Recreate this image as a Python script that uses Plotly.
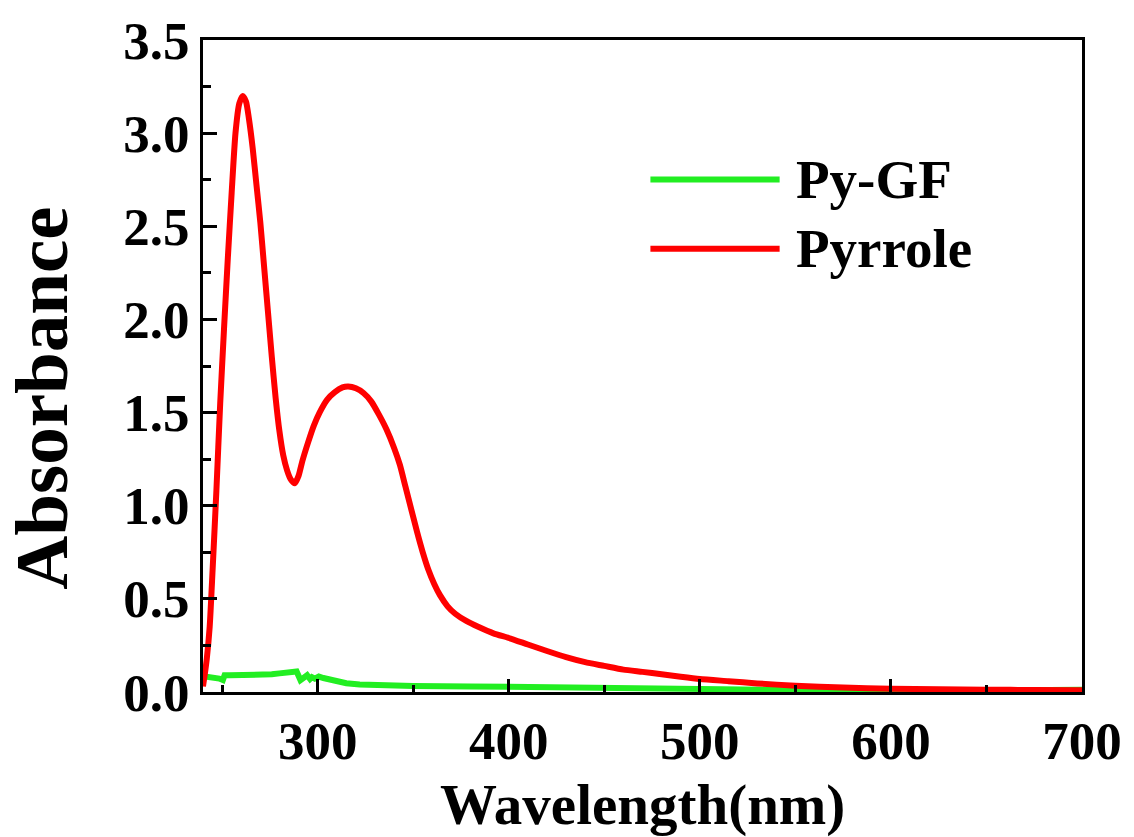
import plotly.graph_objects as go

# UV-Vis absorbance spectra
wl_pyrrole = [240, 241, 242, 243.5, 245, 247, 249, 251, 253, 255, 257, 259, 260.8, 262.5,
              264, 266, 268, 270, 272, 274, 276, 278, 280, 282, 284, 286, 288, 290,
              292, 295, 298, 301, 305, 309, 313, 316, 320, 324, 328, 332, 336, 340,
              343, 346, 349, 352, 355, 358, 361, 364, 368, 372, 378, 384, 392, 400,
              410, 420, 430, 440, 450, 460, 470, 480, 490, 500, 515, 530, 550, 575,
              600, 625, 650, 675, 700]
abs_pyrrole = [0.03, 0.10, 0.18, 0.35, 0.65, 1.08, 1.55, 1.95, 2.33, 2.68, 3.00, 3.16, 3.20, 3.17,
               3.08, 2.92, 2.72, 2.52, 2.28, 2.04, 1.80, 1.58, 1.40, 1.27, 1.19, 1.14, 1.12, 1.16,
               1.24, 1.34, 1.43, 1.50, 1.57, 1.61, 1.635, 1.64, 1.63, 1.605, 1.56, 1.49, 1.41, 1.31,
               1.22, 1.10, 0.98, 0.86, 0.75, 0.655, 0.58, 0.52, 0.46, 0.42, 0.38, 0.35, 0.315, 0.29,
               0.255, 0.22, 0.187, 0.16, 0.14, 0.12, 0.108, 0.095, 0.082, 0.07, 0.058, 0.046, 0.034, 0.024,
               0.018, 0.015, 0.012, 0.011, 0.01]

wl_pygf = [240, 242.6, 246, 248.5, 250.4, 251.3, 254, 258, 262, 266, 272, 276, 280, 284,
           287.6, 289, 291, 292.5, 294.5, 296, 297, 298.5, 300.6, 303, 306.7, 310, 315, 322,
           331, 350, 380, 400, 450, 500, 550, 575, 600, 650, 700]
abs_pygf = [0.085, 0.082, 0.078, 0.072, 0.064, 0.09, 0.09, 0.09, 0.089, 0.09, 0.087, 0.095, 0.10, 0.105,
            0.113, 0.11, 0.064, 0.075, 0.09, 0.07, 0.08, 0.072, 0.083, 0.075, 0.064, 0.055, 0.047, 0.04,
            0.035, 0.032, 0.03, 0.028, 0.022, 0.02, 0.012, 0.006, 0.005, 0.008, 0.012]

x_ticks = [300, 400, 500, 600, 700]
y_ticks = [0.0, 0.5, 1.0, 1.5, 2.0, 2.5, 3.0, 3.5]
series_names = ["Py-GF", "Pyrrole"]
series_colors = ["#22EE22", "#FF0000"]

FONT = "Liberation Serif"

fig = go.Figure()
fig.add_trace(go.Scatter(x=wl_pygf, y=abs_pygf, mode="lines", name=series_names[0],
                         line=dict(color=series_colors[0], width=6), showlegend=False))
fig.add_trace(go.Scatter(x=wl_pyrrole, y=abs_pyrrole, mode="lines", name=series_names[1],
                         line=dict(color=series_colors[1], width=6, shape="spline", smoothing=0.6),
                         showlegend=False))

axis_common = dict(
    showline=True, linecolor="black", linewidth=3, mirror=True,
    ticks="inside", tickcolor="black", tickwidth=3,
    showgrid=False, zeroline=False,
    tickfont=dict(family=FONT, size=53, color="black", weight="bold"),
)

fig.update_xaxes(range=[240, 700], tickvals=x_ticks, ticklen=13,
                 minor=dict(dtick=50, tick0=250, ticks="inside", ticklen=7, tickwidth=3,
                            tickcolor="black"),
                 **axis_common)
fig.update_yaxes(range=[0, 3.5], tickvals=y_ticks, tickformat=".1f", ticklen=14,
                 minor=dict(dtick=0.25, tick0=0, ticks="inside", ticklen=8, tickwidth=3,
                            tickcolor="black"),
                 **axis_common)

# Axis titles
fig.add_annotation(text="Wavelength(nm)", xref="paper", yref="paper", x=0.5, y=-0.121,
                   xanchor="center", yanchor="top", showarrow=False,
                   font=dict(family=FONT, size=57, color="black", weight="bold"))
fig.add_annotation(text="Absorbance", xref="paper", yref="paper", x=-0.184, y=0.45,
                   xanchor="center", yanchor="middle", textangle=-90, showarrow=False,
                   font=dict(family=FONT, size=75, color="black", weight="bold"))

# Legend: line samples with labels
legend_rows = [0.786, 0.680]
for name, color, yy in zip(series_names, series_colors, legend_rows):
    fig.add_shape(type="line", xref="paper", yref="paper", x0=0.509, x1=0.656, y0=yy, y1=yy,
                  line=dict(color=color, width=6))
    fig.add_annotation(text=name, xref="paper", yref="paper", x=0.672, y=yy,
                       xanchor="left", yanchor="middle", showarrow=False,
                       font=dict(family=FONT, size=55, color="black", weight="bold"))

fig.update_layout(
    width=1134, height=837,
    margin=dict(l=203, r=48, t=39, b=145),
    paper_bgcolor="white", plot_bgcolor="white",
)

fig.write_html("out.html")
